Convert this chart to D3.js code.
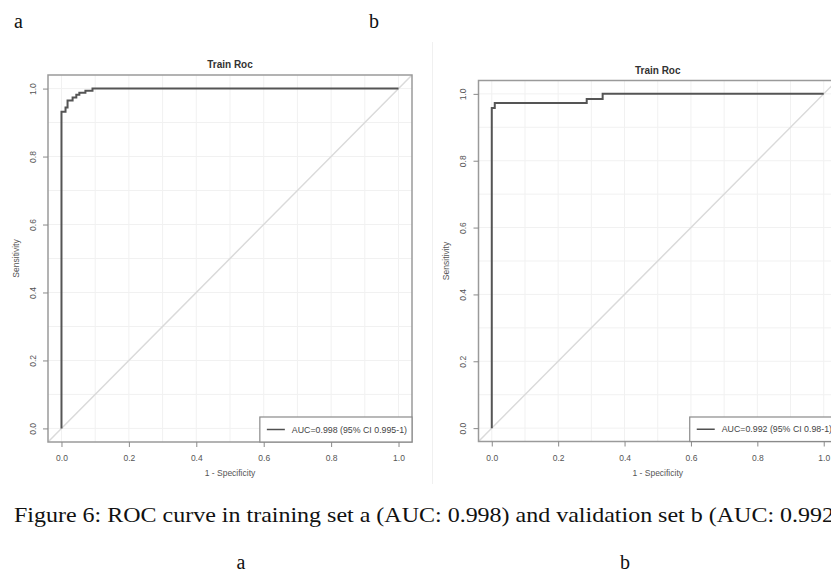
<!DOCTYPE html>
<html>
<head>
<meta charset="utf-8">
<script src="https://cdn.jsdelivr.net/npm/d3@7"></script>
<style>
  body { margin: 0; background: #fff; }
  svg { display: block; }
</style>
</head>
<body>
<div id="chart"></div>
<script>
// ROC points (1 - specificity, sensitivity)
const trainFpr = [0, 0, 0.012, 0.012, 0.018, 0.018, 0.033, 0.033, 0.044, 0.044, 0.053, 0.053, 0.071, 0.071, 0.092, 0.092, 1];
const trainTpr = [0, 0.932, 0.932, 0.944, 0.944, 0.965, 0.965, 0.974, 0.974, 0.982, 0.982, 0.988, 0.988, 0.994, 0.994, 1, 1];
const validFpr = [0, 0, 0.009, 0.009, 0.286, 0.286, 0.334, 0.334, 1];
const validTpr = [0, 0.958, 0.958, 0.973, 0.973, 0.985, 0.985, 1, 1];

const tickValues = [0, 0.2, 0.4, 0.6, 0.8, 1.0];
const gridValues = [0, 0.1, 0.2, 0.3, 0.4, 0.5, 0.6, 0.7, 0.8, 0.9, 1.0];
const panelTitles = ["Train Roc", "Train Roc"];
const legendLabels = ["AUC=0.998 (95% CI 0.995-1)", "AUC=0.992 (95% CI 0.98-1)"];
const panelLetters = ["a", "b"];
const caption = "Figure 6: ROC curve in training set a (AUC: 0.998) and validation set b (AUC: 0.992)";

const W = 831, H = 572;
const sans = "'Liberation Sans', Arial, sans-serif";
const serif = "'Liberation Serif', 'Times New Roman', serif";

const svg = d3.select("#chart").append("svg")
  .attr("width", W)
  .attr("height", H);

// panel frames (plot box in page pixels)
const panels = [
  { fpr: trainFpr, tpr: trainTpr, box: { l: 48, r: 412, t: 75, b: 442 }, titleY: 68 },
  { fpr: validFpr, tpr: validTpr, box: { l: 478.5, r: 837, t: 80.5, b: 441.5 }, titleY: 74 }
];

// faint edge of the second figure image
svg.append("line")
  .attr("x1", 432.5).attr("x2", 432.5)
  .attr("y1", 42).attr("y2", 484)
  .attr("stroke", "#f0f0f0")
  .attr("stroke-width", 1);

panels.forEach(function(p, i) {
  const x = d3.scaleLinear().domain([-0.04, 1.04]).range([p.box.l, p.box.r]);
  const y = d3.scaleLinear().domain([-0.04, 1.04]).range([p.box.b, p.box.t]);
  const g = svg.append("g");

  // light grid
  g.selectAll(".vgrid")
    .data(gridValues)
    .enter().append("line")
    .attr("x1", d => x(d)).attr("x2", d => x(d))
    .attr("y1", p.box.t).attr("y2", p.box.b)
    .attr("stroke", "#f1f1f1").attr("stroke-width", 1);
  g.selectAll(".hgrid")
    .data(gridValues)
    .enter().append("line")
    .attr("x1", p.box.l).attr("x2", p.box.r)
    .attr("y1", d => y(d)).attr("y2", d => y(d))
    .attr("stroke", "#f1f1f1").attr("stroke-width", 1);

  // reference diagonal
  g.append("line")
    .attr("x1", x(-0.04)).attr("y1", y(-0.04))
    .attr("x2", x(1.04)).attr("y2", y(1.04))
    .attr("stroke", "#dadada")
    .attr("stroke-width", 1.5);

  // ROC curve
  const pts = p.fpr.map((d, k) => [d, p.tpr[k]]);
  g.append("path")
    .datum(pts)
    .attr("fill", "none")
    .attr("stroke", "#555")
    .attr("stroke-width", 2)
    .attr("d", d3.line().x(d => x(d[0])).y(d => y(d[1])));

  // plot box
  g.append("rect")
    .attr("x", p.box.l).attr("y", p.box.t)
    .attr("width", p.box.r - p.box.l)
    .attr("height", p.box.b - p.box.t)
    .attr("fill", "none")
    .attr("stroke", "#9a9a9a")
    .attr("stroke-width", 1.5);

  // x axis
  const xAxis = g.append("g")
    .attr("transform", "translate(0," + p.box.b + ")")
    .call(d3.axisBottom(x).tickValues(tickValues).tickFormat(d3.format(".1f")).tickSize(5).tickPadding(8));
  xAxis.select(".domain").remove();
  xAxis.selectAll("line").attr("stroke", "#8a8a8a");
  xAxis.selectAll("text")
    .attr("fill", "#555")
    .style("font-family", sans)
    .style("font-size", "8.5px");

  // y axis, labels parallel to the axis
  const yAxis = g.append("g")
    .attr("transform", "translate(" + p.box.l + ",0)")
    .call(d3.axisLeft(y).tickValues(tickValues).tickFormat(d3.format(".1f")).tickSize(5));
  yAxis.select(".domain").remove();
  yAxis.selectAll("line").attr("stroke", "#8a8a8a");
  yAxis.selectAll("text")
    .attr("x", null).attr("dy", null)
    .attr("transform", "translate(-12.5,0) rotate(-90)")
    .attr("text-anchor", "middle")
    .attr("fill", "#555")
    .style("font-family", sans)
    .style("font-size", "8.5px");

  // titles
  g.append("text")
    .attr("x", (x(0) + x(1)) / 2).attr("y", p.titleY)
    .attr("text-anchor", "middle")
    .attr("fill", "#333")
    .style("font-family", sans)
    .style("font-size", "10px")
    .style("font-weight", "bold")
    .text(panelTitles[i]);

  g.append("text")
    .attr("x", (x(0) + x(1)) / 2).attr("y", 476)
    .attr("text-anchor", "middle")
    .attr("fill", "#555")
    .style("font-family", sans)
    .style("font-size", "8.5px")
    .text("1 - Specificity");

  g.append("text")
    .attr("transform", "translate(" + (p.box.l - 29.5) + "," + ((y(0) + y(1)) / 2) + ") rotate(-90)")
    .attr("text-anchor", "middle")
    .attr("fill", "#555")
    .style("font-family", sans)
    .style("font-size", "8.5px")
    .text("Sensitivity");

  // legend (bottom right, inside the box)
  const lg = g.append("g");
  const lt = lg.append("text")
    .attr("y", (p.box.b + 417) / 2 + 3)
    .attr("fill", "#444")
    .style("font-family", sans)
    .style("font-size", "8.8px")
    .text(legendLabels[i]);
  const tw = lt.node().getComputedTextLength();
  const lx = p.box.r - tw - 37;
  lt.attr("x", lx + 32);
  lg.insert("rect", "text")
    .attr("x", lx).attr("y", 417)
    .attr("width", p.box.r - lx)
    .attr("height", p.box.b - 417)
    .attr("fill", "#fff")
    .attr("stroke", "#8a8a8a")
    .attr("stroke-width", 1.2);
  lg.append("line")
    .attr("x1", lx + 7).attr("x2", lx + 25)
    .attr("y1", (p.box.b + 417) / 2).attr("y2", (p.box.b + 417) / 2)
    .attr("stroke", "#505050")
    .attr("stroke-width", 1.5);
});

// figure letters and caption
const letterTop = [14, 369];
svg.selectAll(".lettertop")
  .data(panelLetters)
  .enter().append("text")
  .attr("x", (d, i) => letterTop[i])
  .attr("y", 28)
  .attr("fill", "#111")
  .style("font-family", serif)
  .style("font-size", "20px")
  .text(d => d);

svg.append("text")
  .attr("x", 14).attr("y", 522)
  .attr("fill", "#111")
  .attr("textLength", 828)
  .attr("lengthAdjust", "spacingAndGlyphs")
  .style("font-family", serif)
  .style("font-size", "21px")
  .text(caption);

const letterBottom = [241, 625];
svg.selectAll(".letterbottom")
  .data(panelLetters)
  .enter().append("text")
  .attr("x", (d, i) => letterBottom[i])
  .attr("y", 569)
  .attr("text-anchor", "middle")
  .attr("fill", "#111")
  .style("font-family", serif)
  .style("font-size", "20px")
  .text(d => d);
</script>
</body>
</html>
